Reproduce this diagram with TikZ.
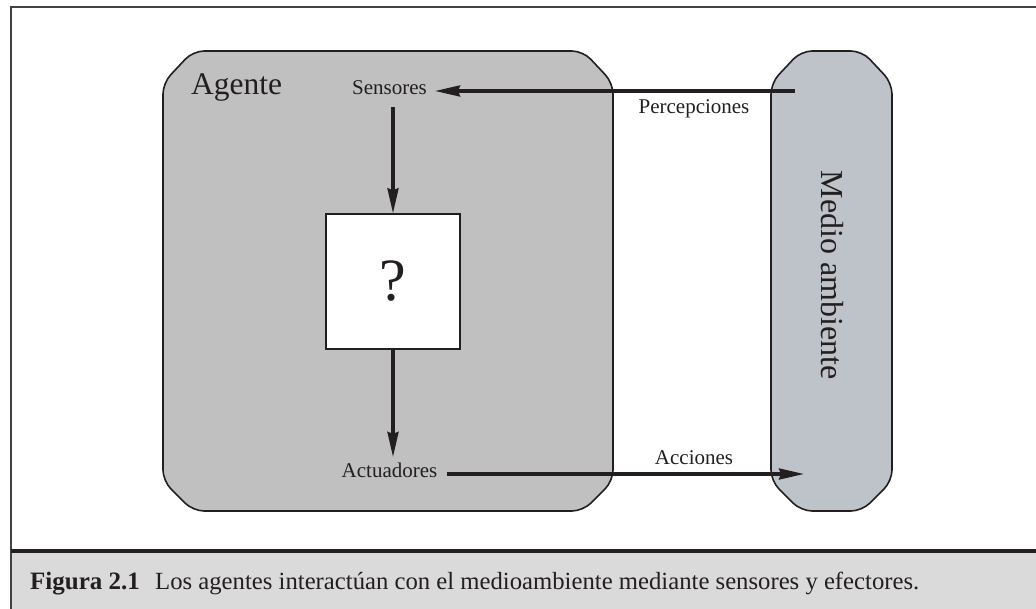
\documentclass[tikz,border=0pt]{standalone}
\usepackage{fontspec}
\setmainfont{Liberation Serif}
\usetikzlibrary{arrows.meta}
\definecolor{ink}{HTML}{231F20}
\definecolor{agentfill}{HTML}{C0C0C0}
\definecolor{envfill}{HTML}{BEC3CA}
\definecolor{capfill}{HTML}{DADADA}
\tikzset{
  lbl/.style={inner sep=0pt, text=ink, font=\fontsize{21}{25}\selectfont},
  bigl/.style={inner sep=0pt, text=ink, font=\fontsize{31.5}{36}\selectfont},
  qbox/.style={draw=ink, line width=1.4pt, fill=white, minimum width=134pt, minimum height=135pt, inner sep=0pt, font=\fontsize{60}{66}\selectfont, text=ink},
  arr/.style={draw=ink, line width=3.1pt, -{Stealth[length=25pt,width=11pt,inset=2pt]}},
  blob/.style={draw=ink, line width=1.6pt, rounded corners=11pt},
}
\begin{document}
\begin{tikzpicture}[x=1pt,y=-1pt]
\useasboundingbox (0,0) rectangle (1036,609);
% frame
\fill[capfill] (11,551) rectangle (1036,609);
\draw[line width=2pt, color=ink!85] (1036,7) -- (11,7) -- (11,609);
\draw[line width=4pt, color=ink] (11,551) -- (1036,551);
% agent box
\path[blob, fill=agentfill] (163,83) -- (193,51) -- (583,51) -- (613,83) -- (613,481) -- (583,511) -- (193,511) -- (163,481) -- cycle;
% environment box
\path[blob, fill=envfill] (771,83) -- (801,51) -- (862,51) -- (892,83) -- (892,481) -- (862,511) -- (801,511) -- (771,481) -- cycle;
% labels
\node[bigl, anchor=base] (agente) at (236.5,95) {Agente};
\node[lbl, anchor=base] (sens) at (389.5,95) {Sensores};
\node[lbl, anchor=base] (act) at (389.5,477.7) {Actuadores};
\node[lbl, anchor=base] (perc) at (694,114) {Percepciones};
\node[lbl, anchor=base] (acc) at (694,464) {Acciones};
\node[qbox] (q) at (393,281.5) {?};
\node[inner sep=0pt, text=ink, font=\fontsize{32}{36}\selectfont, rotate=-90] (env) at (832,275) {Medio ambiente};
% connectors
\coordinate (pin) at (795,91);
\coordinate (aout) at (804,474);
\draw[arr, shorten >=8pt] (pin) -- (sens.east |- pin);
\draw[arr, shorten <=12pt] (q.north |- sens.south) -- (q.north);
\draw[arr, shorten >=6pt] (q.south) -- (q.south |- act.north);
\draw[arr, shorten <=9pt] (act.east |- aout) -- (aout);
% caption
\node[inner sep=0pt, anchor=base west, text=ink, font=\fontsize{25}{30}\selectfont\bfseries] (fig) at (30,589) {Figura 2.1};
\node[inner sep=0pt, anchor=base west, text=ink, font=\fontsize{24.7}{30}\selectfont] (cap) at (155,589) {Los agentes interactúan con el medioambiente mediante sensores y efectores.};
\end{tikzpicture}
\end{document}
